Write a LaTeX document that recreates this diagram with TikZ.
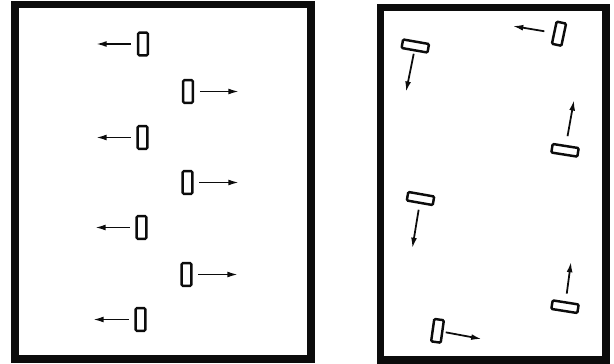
\documentclass[tikz,border=0pt]{standalone}
\usepackage{tikz}
\usetikzlibrary{arrows.meta,positioning}
\definecolor{mvInk}{RGB}{12,12,12}

\begin{document}
\begin{tikzpicture}[
  x=0.03cm,y=-0.03cm,
  frame/.style={draw=mvInk,line width=6.8pt},
  car/.style={rectangle,draw=mvInk,line width=2.1pt,rounded corners=1pt,
              minimum width=0.29cm,minimum height=0.68cm,inner sep=0pt},
  carh/.style={car,minimum width=0.79cm,minimum height=0.26cm},
  move/.style={draw=mvInk,line width=1.5pt,shorten <=5pt,
               -{Latex[length=9pt,width=5pt]}}
]
\useasboundingbox (0,0) rectangle (614,364);

% --- Left panel: parallel lanes
\draw[frame] (15,4.5) rectangle (311,359);
\node[car] (l1) at (143,44)    {};
\node[car] (l2) at (188,91.5)  {};
\node[car] (l3) at (142.5,137.5) {};
\node[car] (l4) at (187.5,182.5) {};
\node[car] (l5) at (141.5,227.5) {};
\node[car] (l6) at (186.5,274.5) {};
\node[car] (l7) at (140.5,319.5) {};
\coordinate (tl1) at (96,44);
\coordinate (tl2) at (239,91.5);
\coordinate (tl3) at (96,137.5);
\coordinate (tl4) at (239,182.5);
\coordinate (tl5) at (95,227.5);
\coordinate (tl6) at (238,274.5);
\coordinate (tl7) at (93,319.5);
\draw[move] (l1) -- (tl1);
\draw[move] (l2) -- (tl2);
\draw[move] (l3) -- (tl3);
\draw[move] (l4) -- (tl4);
\draw[move] (l5) -- (tl5);
\draw[move] (l6) -- (tl6);
\draw[move] (l7) -- (tl7);

% --- Right panel: circulation round the edge
\draw[frame] (380.5,7.5) rectangle (606,360);
\node[carh,rotate=-10] (rA) at (415.3,46)    {};
\node[car,rotate=-12]  (rB) at (559,33.7)    {};
\node[carh,rotate=-9]  (rC) at (565,150.3)   {};
\node[carh,rotate=-10] (rD) at (420.5,198.5) {};
\node[carh,rotate=-9]  (rE) at (565,306.7)   {};
\node[car,rotate=-8]   (rF) at (437.5,330.8) {};
\coordinate (tA) at (406,92);
\coordinate (tB) at (512.7,26);
\coordinate (tC) at (574,100);
\coordinate (tD) at (412.3,248.3);
\coordinate (tE) at (571,261.7);
\coordinate (tF) at (481.7,339);
\draw[move,shorten <=2pt]   (rA) -- (tA);
\draw[move,shorten <=7.5pt] (rB) -- (tB);
\draw[move,shorten <=7.5pt] (rC) -- (tC);
\draw[move,shorten <=5pt]   (rD) -- (tD);
\draw[move,shorten <=6.5pt] (rE) -- (tE);
\draw[move,shorten <=2pt]   (rF) -- (tF);
\end{tikzpicture}
\end{document}
